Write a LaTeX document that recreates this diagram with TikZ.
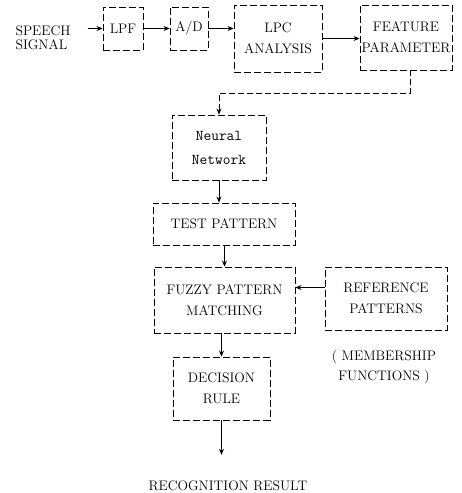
\documentclass[tikz,border=0pt]{standalone}
\usepackage{tikz}
\usetikzlibrary{positioning,arrows.meta}

\begin{document}
\begin{tikzpicture}[x=1pt,y=-1pt,
		blk/.style={draw,line width=0.9pt,dash pattern=on 7pt off 3pt,inner sep=0pt,align=center,font=\fontsize{13.8}{21}\selectfont},
		lbl/.style={inner sep=0pt,align=center,font=\fontsize{13.8}{20}\selectfont},
		arr/.style={line width=0.8pt,-{Stealth[length=6pt,width=5pt]}}]
			
			\useasboundingbox (0,0) rectangle (462,493);
			
			% top row
			\node[lbl,align=left,font=\fontsize{13.8}{14}\selectfont] (speech) at (43,38) {SPEECH\\SIGNAL};
			\node[blk,minimum width=40pt,minimum height=43pt] (lpf) at (123,28.5) {LPF};
			\node[blk,minimum width=38pt,minimum height=43pt] (ad) at (189,28.5) {A/D};
			\node[blk,minimum width=88pt,minimum height=67pt] (lpc) at (278,38.5) {LPC\\ANALYSIS};
			\node[blk,minimum width=92pt,minimum height=65pt] (feat) at (406,37.5) {FEATURE\\PARAMETER};
			
			% main column
			\node[blk,minimum width=94pt,minimum height=65pt,font=\ttfamily\fontsize{15}{24}\selectfont] (nn) at (219,147.5) {Neural\\Network};
			\node[blk,minimum width=142pt,minimum height=42pt] (test) at (224,224) {TEST PATTERN};
			\node[blk,minimum width=141pt,minimum height=66pt] (fuzzy) at (224.5,300) {FUZZY PATTERN\\MATCHING};
			\node[blk,minimum width=122pt,minimum height=63pt] (ref) at (386,298.5) {REFERENCE\\PATTERNS};
			\node[lbl] (member) at (384,367) {( MEMBERSHIP\\FUNCTIONS )};
			\node[blk,minimum width=97pt,minimum height=63pt] (dec) at (221.5,388.5) {DECISION\\RULE};
			\node[lbl] (result) at (228,486) {RECOGNITION RESULT};
			
			\draw[arr,shorten <=17pt] (speech.east |- lpf.west) -- (lpf.west);
			\draw[arr] (lpf.east) -- (ad.west);
			\draw[arr] (ad.east) -- (ad.east -| lpc.west);
			\draw[arr] (lpc.east) -- (lpc.east -| feat.west);
			\draw[arr,dash pattern=on 6pt off 3pt] ([xshift=4pt]feat.south) -- ++(0,23) -| (nn.north);
			\draw[arr] (nn.south) -- (nn.south |- test.north);
			\draw[arr] (test.south -| fuzzy.south) -- (fuzzy.north);
			\draw[arr] ([yshift=11pt]ref.west) -- ([yshift=11pt]ref.west -| fuzzy.east);
			\draw[arr] (fuzzy.south -| dec.south) -- (dec.north);
			\draw[arr,shorten >=26pt] (dec.south) -- (dec.south |- result.north);
			
		\end{tikzpicture}
\end{document}
